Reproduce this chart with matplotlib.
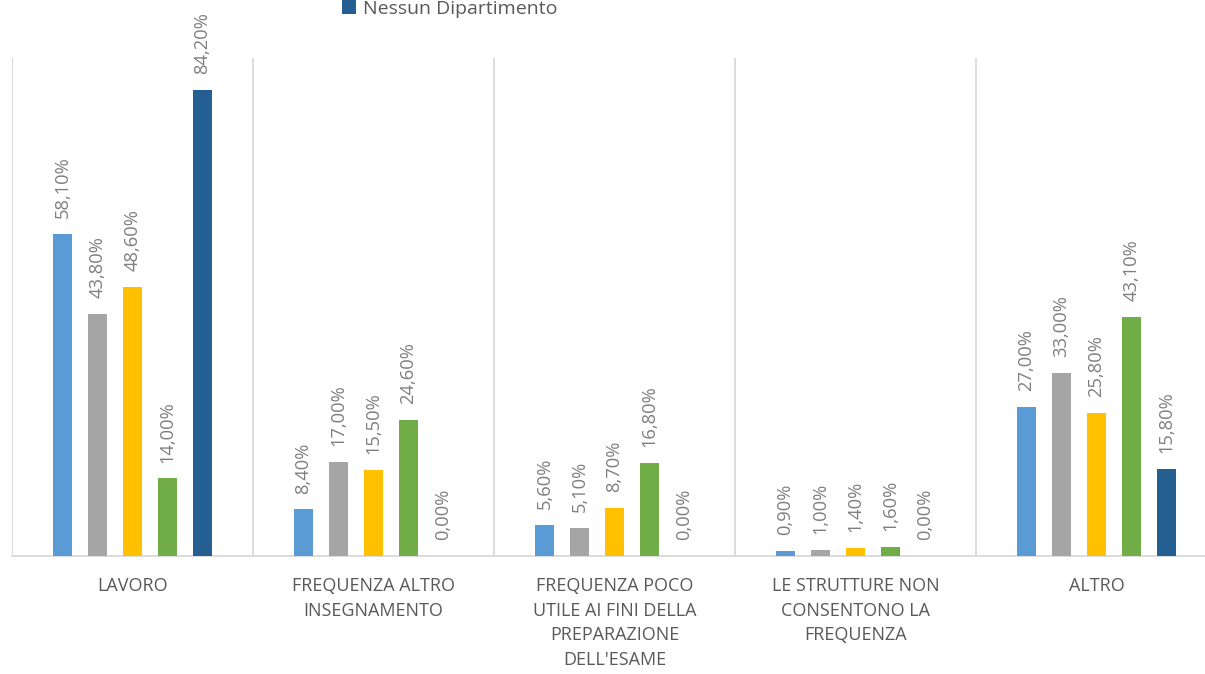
import matplotlib
matplotlib.use("Agg")
import matplotlib.pyplot as plt
import numpy as np

# categories (x axis) and the five series, values in percent
categories = [
    "LAVORO",
    "FREQUENZA ALTRO\nINSEGNAMENTO",
    "FREQUENZA POCO\nUTILE AI FINI DELLA\nPREPARAZIONE\nDELL'ESAME",
    "LE STRUTTURE NON\nCONSENTONO LA\nFREQUENZA",
    "ALTRO",
]
series_names = ["Serie 1", "Serie 2", "Serie 3", "Serie 4", "Nessun Dipartimento"]
serie_1 = [58.1, 8.4, 5.6, 0.9, 27.0]
serie_2 = [43.8, 17.0, 5.1, 1.0, 33.0]
serie_3 = [48.6, 15.5, 8.7, 1.4, 25.8]
serie_4 = [14.0, 24.6, 16.8, 1.6, 43.1]
nessun_dip = [84.2, 0.0, 0.0, 0.0, 15.8]

colors = ["#5B9BD5", "#A5A5A5", "#FFC000", "#70AD47", "#255E91"]

plt.rcParams['font.family'] = ['Open Sans', 'DejaVu Sans']

fig = plt.figure(figsize=(12.05, 6.74), dpi=100)
ax = fig.add_axes([0.00996, 0.1751, 1.0, 0.7391])

x = np.arange(len(categories))
step = 0.1454
width = 0.079
all_series = [serie_1, serie_2, serie_3, serie_4, nessun_dip]

bars = []
for i, (vals, col, name) in enumerate(zip(all_series, colors, series_names)):
    b = ax.bar(x + (i - 2) * step, vals, width, color=col, label=name, zorder=3)
    bars.append(b)
    labels = [f"{v:.2f}%".replace('.', ',') for v in vals]
    for rect, lab, v in zip(b, labels, vals):
        ax.annotate(lab, (rect.get_x() + rect.get_width() / 2, v),
                    xytext=(0, 11.5), textcoords='offset points',
                    rotation=90, ha='center', va='bottom',
                    fontsize=13.2, color='#7F7F7F')

ax.set_xlim(-0.5, 4.5)
ax.set_ylim(0, 90)

# vertical separators between categories
ax.set_xticks(np.arange(-0.5, 5.0, 1.0), minor=True)
ax.grid(axis='x', which='minor', color='#D9D9D9', linewidth=1.3, zorder=0)
ax.tick_params(axis='x', which='minor', length=0)

ax.set_xticks(x)
ax.set_xticklabels(categories, fontsize=13, color='#595959', linespacing=1.48)
ax.tick_params(axis='x', which='major', length=0, pad=15)
ax.set_yticks([])

for s in ['top', 'right', 'left']:
    ax.spines[s].set_visible(False)
ax.spines['bottom'].set_color('#D9D9D9')
ax.spines['bottom'].set_linewidth(1.3)

# only the last legend entry is visible in the cropped picture
fig.legend(handles=[bars[4]], labels=[series_names[4]], loc='upper left',
           bbox_to_anchor=(0.2838, 1.0), frameon=False, fontsize=14,
           labelcolor='#595959', handlelength=0.7, handleheight=0.7,
           handletextpad=0.4, borderpad=0.0, borderaxespad=0.0)

fig.savefig("out.png", dpi=100)
